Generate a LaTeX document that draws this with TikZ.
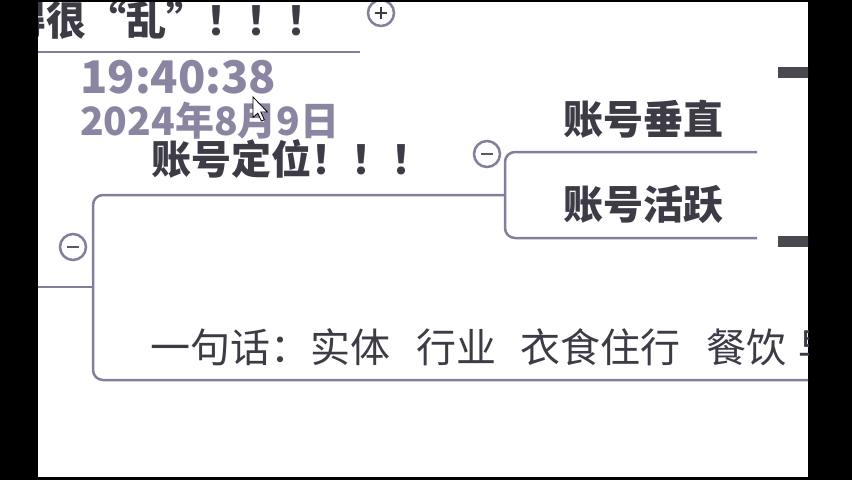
\documentclass[tikz,border=0pt]{standalone}
\usepackage{fontspec}
\setmainfont{Noto Sans CJK SC}
\usetikzlibrary{positioning}

\definecolor{inkdark}{HTML}{3C3B46}
\definecolor{linegray}{HTML}{857D9C}
\definecolor{stampgray}{HTML}{8C85A2}
\definecolor{stubdark}{HTML}{4A4950}

\begin{document}
\begin{tikzpicture}[
    x=1pt, y=-1pt,
    topic/.style={font=\fontsize{40}{40}\selectfont\bfseries, text=inkdark, inner sep=0pt, anchor=base west},
    note/.style={font=\fontsize{40}{40}\selectfont, text=inkdark, inner sep=0pt, anchor=base west},
    stamp/.style={font=\fontsize{39}{39}\selectfont\bfseries, text=stampgray, inner sep=0pt, anchor=base west},
    branch/.style={draw=linegray, line width=2.5pt, rounded corners=10pt},
    toggle/.style={circle, draw=linegray, line width=2.5pt, fill=white, minimum size=26pt, inner sep=0pt},
    stub/.style={draw=stubdark, line width=11pt},
]
% screen frame
\useasboundingbox (0,0) rectangle (852,480);
\fill[black] (0,0) rectangle (852,480);
\fill[white] (38,2) rectangle (808,477);

\begin{scope}
\clip (38,2) rectangle (808,477);

% topics
\node[topic] (luan) at (6,35) {得很“乱”！！！};
\node[topic] (dingwei) at (151,174) {账号定位！！！};
\node[topic] (chuizhi) at (563,134) {账号垂直};
\node[topic] (huoyue) at (563,219) {账号活跃};
\node[note] (yijuhua) at (150,362) {一句话：实体\hspace{26pt}行业\hspace{24pt}衣食住行\hspace{26pt}餐饮\hspace{12pt}早};

% timestamp overlay
\node[stamp, font=\fontsize{45}{45}\selectfont\bfseries] (time) at (80,93) {19:40:38};
\node[stamp] (date) at (80,135) {2024年8月9日};

% branch lines
\coordinate (luanend) at (360,52);
\coordinate (inlet) at (30,287);
\coordinate (hub) at (93,287);
\coordinate (fork) at (505,195);
\coordinate (chuizhiend) at (757,152);
\coordinate (huoyueend) at (757,238);
\coordinate (noteend) at (830,380);
\draw[branch] (30,52) -- (luanend);
\draw[branch] (inlet) -- (hub);
\draw[branch] (hub) |- (fork);
\draw[branch] (hub) |- (noteend);
\draw[branch] (fork) |- (chuizhiend);
\draw[branch] (fork) |- (huoyueend);

% stubs of the next level
\draw[stub] (778,72) -- (830,72);
\draw[stub] (778,241) -- (830,241);

% collapse / expand buttons
\node[toggle] (plus) at (381,13) {};
\draw[inkdark, line width=2pt] ([xshift=-6pt]plus.center) -- ([xshift=6pt]plus.center)
    ([yshift=-6pt]plus.center) -- ([yshift=6pt]plus.center);
\node[toggle] (minusa) at (487,154) {};
\draw[linegray!70!black, line width=1.5pt] ([xshift=-6pt]minusa.center) -- ([xshift=6pt]minusa.center);
\node[toggle] (minusb) at (73,247) {};
\draw[linegray!70!black, line width=1.5pt] ([xshift=-6pt]minusb.center) -- ([xshift=6pt]minusb.center);

% mouse pointer
\draw[black, fill=white, line width=0.8pt, shift={(253,97)}, scale=1.2]
    (0,0) -- (0,17) -- (4,13.5) -- (7,20) -- (9.5,19) -- (6.5,12.5) -- (12,12.5) -- cycle;
\end{scope}
\end{tikzpicture}
\end{document}
